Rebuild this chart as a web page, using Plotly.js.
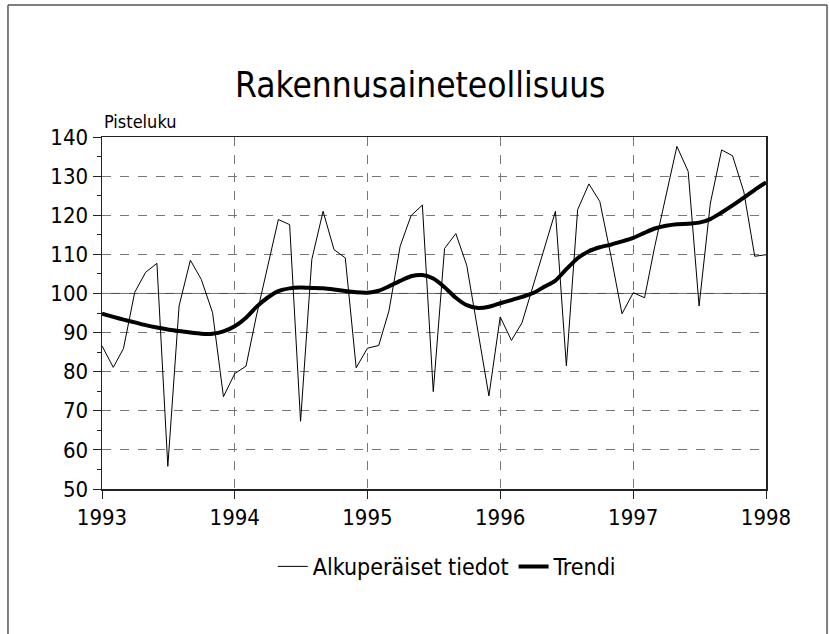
<!DOCTYPE html>
<html>
<head>
<meta charset="utf-8">
<script src="https://cdn.plot.ly/plotly-3.0.1.min.js"></script>
<style>
  html, body { margin: 0; padding: 0; background: #fff; }
  #chart { width: 829px; height: 634px; }
</style>
</head>
<body>
<div id="chart"></div>
<script>
// Monthly observations, Jan 1993 .. Jan 1998
const startYear = 1993;
const endYear = 1998;
const original = [
  86.6, 81.1, 85.9, 100.3, 105.4, 107.7, 55.8, 96.8, 108.5, 103.6, 95.1, 73.6,
  79.5, 81.4, 94.0, 106.5, 118.9, 117.6, 67.3, 108.7, 121.0, 111.2, 109.1, 81.0,
  86.0, 86.7, 95.5, 112.1, 119.9, 122.6, 74.9, 111.5, 115.3, 107.2, 90.0, 73.8,
  94.0, 88.0, 92.5, 102.3, 111.2, 121.0, 81.5, 121.4, 128.0, 123.5, 109.4, 94.8,
  100.2, 98.9, 112.0, 124.8, 137.6, 131.2, 96.8, 123.1, 136.7, 135.2, 126.0, 109.5,
  109.9
];
const trend = [
  94.8, 94.0, 93.3, 92.6, 91.9, 91.3, 90.8, 90.4, 90.0, 89.7, 89.7, 90.3,
  91.6, 93.8, 96.5, 98.9, 100.6, 101.3, 101.5, 101.4, 101.3, 101.0, 100.6, 100.3,
  100.2, 100.7, 101.8, 103.2, 104.4, 104.7, 103.8, 101.6, 98.9, 97.0, 96.3, 96.6,
  97.5, 98.3, 99.1, 100.1, 101.7, 103.3, 106.2, 109.0, 110.8, 111.8, 112.5, 113.3,
  114.2, 115.5, 116.6, 117.3, 117.7, 117.8, 118.1, 119.0, 120.7, 122.5, 124.5, 126.5,
  128.4
];
const seriesNames = ["Alkuperäiset tiedot", "Trendi"];
const titleText = "Rakennusaineteollisuus";
const yLabel = "Pisteluku";
const yTicks = [50, 60, 70, 80, 90, 100, 110, 120, 130, 140];

// month dates for the category positions
const dates = original.map((_, i) => {
  const y = startYear + Math.floor(i / 12);
  const m = (i % 12) + 1;
  return y + "-" + String(m).padStart(2, "0") + "-01";
});

const FONT = "'Liberation Sans Narrow', 'DejaVu Sans Condensed', 'Arial Narrow', sans-serif";

const traces = [
  {
    x: dates, y: original, name: seriesNames[0], type: "scatter", mode: "lines",
    line: { color: "#000", width: 1 }
  },
  {
    x: dates, y: trend, name: seriesNames[1], type: "scatter", mode: "lines",
    line: { color: "#000", width: 4, shape: "spline", smoothing: 0.6 }
  }
];

const frameLine = { color: "#555", width: 1.5 };

const layout = {
  width: 829, height: 634,
  margin: { l: 102, r: 63, t: 137, b: 145 },
  paper_bgcolor: "#fff", plot_bgcolor: "#fff",
  font: { family: FONT, color: "#000", size: 21 },
  title: {
    text: titleText, font: { family: FONT, size: 35, color: "#000" },
    x: 0.507, xanchor: "center", y: 0.866, yanchor: "middle", xref: "container", yref: "container"
  },
  showlegend: true,
  legend: {
    orientation: "h", x: 0.52, xanchor: "center", y: -0.22, yanchor: "middle",
    font: { family: FONT, size: 23, color: "#000" }, itemwidth: 30, tracegroupgap: 0,
    bgcolor: "rgba(0,0,0,0)"
  },
  xaxis: {
    type: "date",
    range: [startYear + "-01-01", endYear + "-01-01"],
    tick0: startYear + "-01-01", dtick: "M12", tickformat: "%Y",
    showgrid: true, gridcolor: "#777", gridwidth: 1, griddash: "dash",
    showline: true, linecolor: "#222", linewidth: 1.5, mirror: true,
    ticks: "outside", ticklen: 8, tickcolor: "#222", tickwidth: 1,
    tickfont: { family: FONT, size: 22, color: "#000" },
    zeroline: false, fixedrange: true
  },
  yaxis: {
    range: [50, 140], tickvals: yTicks, ticktext: yTicks.map(String),
    showgrid: true, gridcolor: "#777", gridwidth: 1, griddash: "dash",
    showline: true, linecolor: "#222", linewidth: 1.5, mirror: true,
    ticks: "outside", ticklen: 8, tickcolor: "#222", tickwidth: 1,
    minor: { dtick: 5, tick0: 50, ticks: "outside", ticklen: 4, tickcolor: "#222", showgrid: false },
    tickfont: { family: FONT, size: 22, color: "#000" },
    zeroline: false, fixedrange: true
  },
  annotations: [
    {
      text: yLabel, xref: "paper", yref: "paper", x: 0.0, y: 1.043,
      xanchor: "left", yanchor: "middle", showarrow: false,
      font: { family: FONT, size: 18, color: "#000" }
    }
  ],
  shapes: [
    {
      type: "line", xref: "paper", yref: "y", x0: 0, x1: 1, y0: 100, y1: 100,
      line: { color: "#444", width: 1 }, layer: "below"
    },
    { type: "line", xref: "paper", yref: "paper", x0: -0.1416, x1: -0.1416, y0: -0.45, y1: 1.375, line: frameLine },
    { type: "line", xref: "paper", yref: "paper", x0: -0.1416, x1: 1.0919, y0: 1.375, y1: 1.375, line: frameLine },
    { type: "line", xref: "paper", yref: "paper", x0: 1.0919, x1: 1.0919, y0: -0.45, y1: 1.375, line: frameLine }
  ]
};

Plotly.newPlot("chart", traces, layout, { staticPlot: true, displayModeBar: false });
</script>
</body>
</html>
